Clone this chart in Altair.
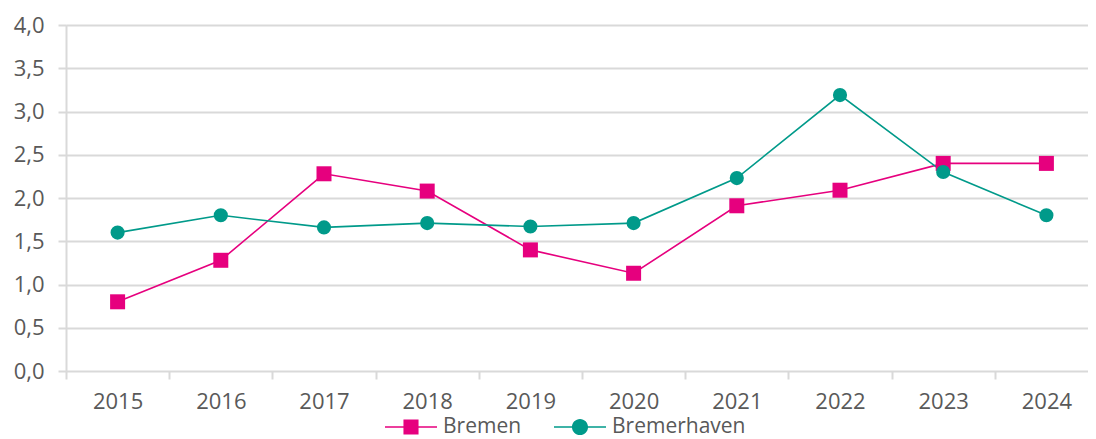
import altair as alt
import pandas as pd

years = ["2015", "2016", "2017", "2018", "2019", "2020", "2021", "2022", "2023", "2024"]
bremen = [0.8, 1.28, 2.28, 2.08, 1.4, 1.13, 1.91, 2.09, 2.4, 2.4]
bremerhaven = [1.6, 1.8, 1.66, 1.71, 1.67, 1.71, 2.23, 3.19, 2.3, 1.8]
series = ["Bremen", "Bremerhaven"]
colors = ["#E6007E", "#009A8A"]
y_ticks = [0, 0.5, 1, 1.5, 2, 2.5, 3, 3.5, 4]

rows = []
for name, vals in zip(series, [bremen, bremerhaven]):
    for yr, v in zip(years, vals):
        rows.append({"year": yr, "series": name, "value": v})
df = pd.DataFrame(rows)

FONT = "Open Sans"
GRID = "#d9d9d9"
TXT = "#595959"

x_enc = alt.X(
    "year:O",
    scale=alt.Scale(type="band", paddingInner=0, paddingOuter=0, range=[0, 1032]),
    axis=alt.Axis(
        title=None, labelAngle=0, tickBand="extent", grid=False,
        tickSize=8, tickColor=GRID, tickWidth=2,
        domain=False,
        labelFont=FONT, labelFontSize=22, labelColor=TXT, labelPadding=12,
    ),
)
y_enc = alt.Y(
    "value:Q",
    scale=alt.Scale(domain=[0, 4], nice=False),
    axis=alt.Axis(
        title=None, values=y_ticks,
        labelExpr="replace(format(datum.value, '.1f'), '.', ',')",
        grid=True, gridColor=GRID, gridWidth=2,
        tickSize=8, tickColor=GRID, tickWidth=2,
        domainColor=GRID, domainWidth=2,
        labelFont=FONT, labelFontSize=22, labelColor=TXT, labelPadding=14,
    ),
)

base = alt.Chart(df)
layers = []
for name, col in zip(series, colors):
    sub = base.transform_filter(alt.datum.series == name)
    layers.append(sub.mark_line(strokeWidth=1.6, color=col).encode(x=x_enc, y=y_enc))
layers.append(base.transform_filter(alt.datum.series == series[0])
              .mark_square(size=225, opacity=1, color=colors[0]).encode(x=x_enc, y=y_enc))
layers.append(base.transform_filter(alt.datum.series == series[1])
              .mark_circle(size=200, opacity=1, color=colors[1]).encode(x=x_enc, y=y_enc))

# legend symbols: line segment + marker, as filled paths
sq = "M-1,-0.03H1V0.03H-1Z M-0.29,-0.29H0.29V0.29H-0.29Z"
ci = "M-1,-0.03H1V0.03H-1Z M0.31,0A0.31,0.31,0,1,1,-0.31,0A0.31,0.31,0,1,1,0.31,0Z"

leg = alt.Legend(
    title=None, orient="none", direction="horizontal",
    legendX=319, legendY=376, padding=0,
    labelFont=FONT, labelFontSize=21, labelColor=TXT,
    symbolSize=2704, symbolStrokeWidth=0, symbolOpacity=1,
    columnPadding=32, labelOffset=6,
)

legend_layer = base.mark_point(filled=True, opacity=0).encode(
    x=x_enc, y=y_enc,
    color=alt.Color("series:N", scale=alt.Scale(domain=series, range=colors), legend=leg),
    shape=alt.Shape("series:N", scale=alt.Scale(domain=series, range=[sq, ci]), legend=leg),
)
layers.append(legend_layer)

chart = alt.layer(*layers).properties(
    width=1022, height=346,
    padding={"left": 58, "top": 17, "right": 0, "bottom": 68},
    autosize=alt.AutoSizeParams(type="none"),
).configure_view(stroke=None).configure(background="white")

chart.save("out.html", embed_options={"renderer": "svg", "actions": False})
